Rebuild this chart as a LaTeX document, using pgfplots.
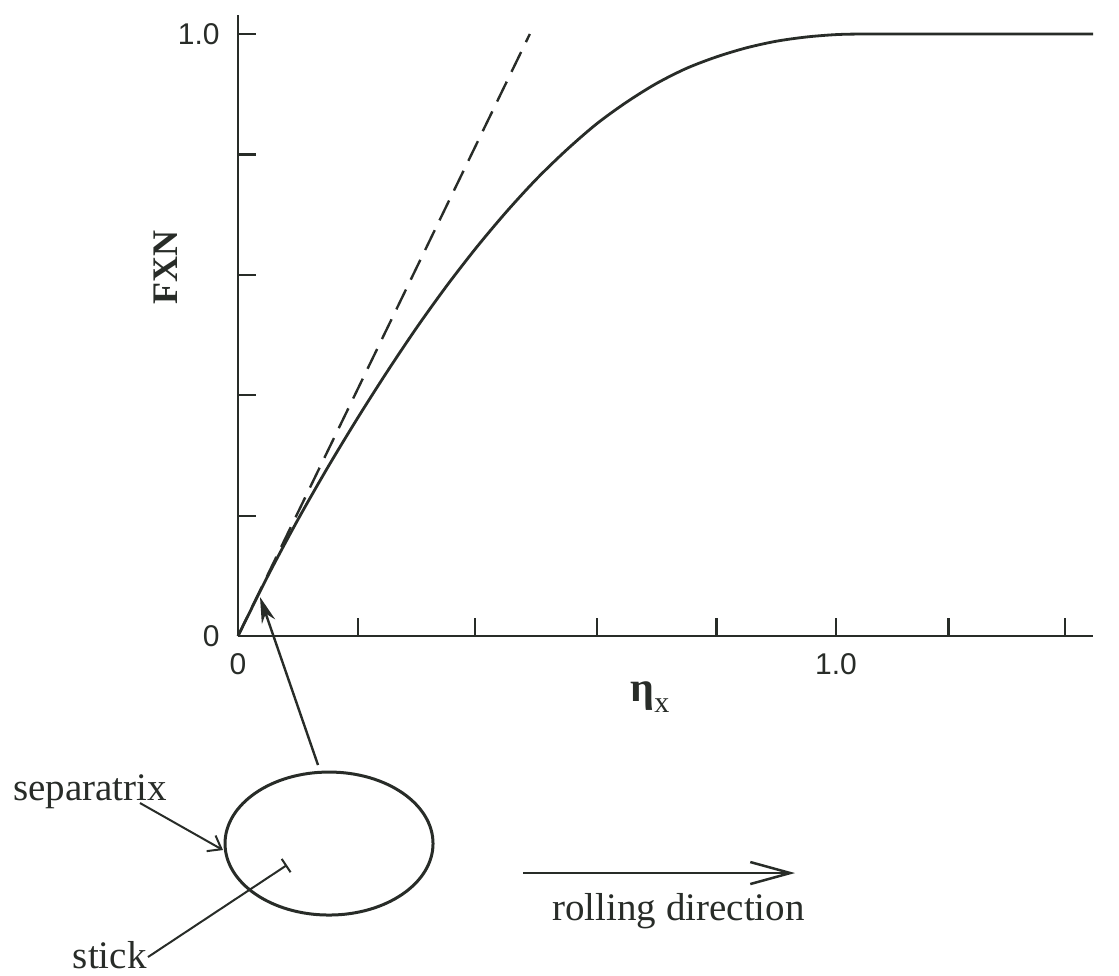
\documentclass[border=0pt]{standalone}
\usepackage{fontspec}
\setmainfont{Liberation Serif}
\newfontfamily\tickfont{Liberation Sans}
\usepackage{pgfplots}
\pgfplotsset{compat=1.18}
\usetikzlibrary{arrows.meta}
\definecolor{ink}{RGB}{40,44,40}

% creep curve: normalised longitudinal force against creepage
\pgfplotstableread{
eta    fxn
0.000  0.000
0.050  0.100
0.100  0.193
0.150  0.280
0.200  0.362
0.250  0.440
0.300  0.514
0.350  0.583
0.400  0.647
0.450  0.706
0.500  0.760
0.550  0.808
0.600  0.851
0.650  0.887
0.700  0.918
0.750  0.943
0.800  0.962
0.850  0.977
0.900  0.988
0.950  0.995
1.000  0.999
1.050  1.000
1.200  1.000
1.430  1.000
}\creepcurve

% initial slope (linear theory)
\pgfplotstableread{
eta    fxn
0.000  0.000
0.488  1.000
}\linearslope

\begin{document}
\begin{tikzpicture}
\begin{axis}[
  x=299pt, y=301pt,
  xmin=0, xmax=1.43, ymin=0, ymax=1.0316,
  axis lines=left,
  axis line style={ink, line width=1.2pt, -},
  clip=false,
  tick align=inside,
  major tick length=9pt,
  tick style={ink, line width=1.1pt},
  xtick={0,0.2,0.396,0.6,0.8,1.0,1.188,1.383},
  xticklabels={0,,,,,1.0,,},
  ytick={0,0.2,0.4,0.6,0.8,1.0},
  yticklabels={0,,,,,1.0},
  ticklabel style={font=\tickfont\fontsize{15}{15}\selectfont, text=ink},
  xticklabel style={anchor=north, inner sep=0pt, yshift=-8.5pt},
  yticklabel style={anchor=east, inner sep=0pt, xshift=-9pt},
  xlabel={\textbf{η}\raisebox{-0.28em}{\fontsize{15}{15}\selectfont x}},
  xlabel style={at={(axis description cs:0.4818,-0.0982)}, anchor=center,
    font=\fontsize{21}{21}\selectfont, text=ink},
  ylabel={\bfseries FXN},
  ylabel style={at={(axis description cs:-0.0842,0.594)}, anchor=center,
    font=\fontsize{18}{18}\selectfont, text=ink},
]
\addplot[ink, line width=1.4pt, smooth] table[x=eta, y=fxn] {\creepcurve};
\addplot[ink, line width=1.2pt, dash pattern=on 11pt off 5.5pt] table[x=eta, y=fxn] {\linearslope};

% contact patch sketch
\draw[ink, line width=1.5pt] (axis cs:0.1522,-0.3447) ellipse [x radius=52pt, y radius=35.75pt];
\draw[ink, line width=1.2pt, -{Stealth[length=13pt, width=7pt]}]
  (axis cs:0.1338,-0.2143) -- (axis cs:0.0368,0.0648);
\draw[ink, line width=1pt, -{Straight Barb[length=6pt, width=9pt]}]
  (axis cs:-0.1639,-0.2774) -- (axis cs:-0.0251,-0.3555);
\node[anchor=base west, inner sep=0pt, text=ink, font=\fontsize{19.5}{19.5}\selectfont]
  at (axis cs:-0.3763,-0.2724) {separatrix};
\draw[ink, line width=1pt, -{Bar[width=8pt]}]
  (axis cs:-0.1505,-0.5332) -- (axis cs:0.0819,-0.3804);
\node[anchor=base east, inner sep=0pt, text=ink, font=\fontsize{19.5}{19.5}\selectfont]
  at (axis cs:-0.1522,-0.5515) {stick};
\draw[ink, line width=1.25pt, -{Straight Barb[length=20pt, width=11pt]}]
  (axis cs:0.4766,-0.3937) -- (axis cs:0.9314,-0.3937);
\node[anchor=base west, inner sep=0pt, text=ink, font=\fontsize{19.5}{19.5}\selectfont]
  at (axis cs:0.5251,-0.4718) {rolling direction};

\path (axis cs:-0.398,-0.5631) rectangle (axis cs:1.4732,1.0565);
\end{axis}
\end{tikzpicture}
\end{document}
